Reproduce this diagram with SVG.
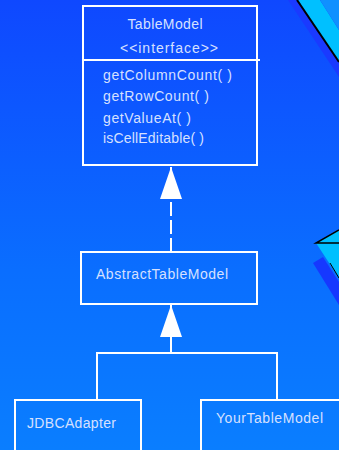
<svg xmlns="http://www.w3.org/2000/svg" width="339" height="450" viewBox="0 0 339 450">
  <defs>
    <linearGradient id="bg" x1="0" y1="0" x2="0" y2="1">
      <stop offset="0" stop-color="#0f48ff"/>
      <stop offset="0.6" stop-color="#0a6eff"/>
      <stop offset="1" stop-color="#0a7eff"/>
    </linearGradient>
    <!-- hollow-style generalization head, drawn as a solid white triangle -->
    <marker id="tri" markerWidth="32" markerHeight="22" refX="32" refY="11" orient="auto" markerUnits="userSpaceOnUse" viewBox="0 0 32 22">
      <path d="M32 11 L0 0 L0 22 Z" fill="#ffffff"/>
    </marker>
  </defs>
  <style>
    .box { fill: none; stroke: #ffffff; stroke-width: 2; }
    .line { fill: none; stroke: #ffffff; stroke-width: 2; }
    .lbl { font-family: "Liberation Sans", Arial, sans-serif; font-size: 14px; fill: #d6e0ff; }
  </style>

  <rect x="0" y="0" width="339" height="450" fill="url(#bg)"/>

  <!-- corner decoration, upper right -->
  <g id="deco-top">
    <polygon points="288,0 339,0 339,77" fill="#1a3aff"/>
    <polygon points="298,0 320,0 339,30 339,62" fill="#00c0ff"/>
    <polygon points="320,0 339,0 339,30" fill="#1090ff"/>
    <line x1="297" y1="0" x2="339" y2="62" stroke="#000000" stroke-width="2"/>
  </g>

  <!-- side decoration, right -->
  <g id="deco-side">
    <polygon points="313,263 323,257 339,282 339,305" fill="#1638ff"/>
    <polygon points="316,243 339,230 339,278" fill="#00c0ff"/>
    <polyline points="339,230 316,243 339,243" fill="none" stroke="#000000" stroke-width="1.5"/>
    <line x1="330" y1="263" x2="339" y2="278" stroke="#000000" stroke-width="1"/>
  </g>

  <g id="connectors">
    <line class="line" x1="171" y1="252" x2="171" y2="167" stroke-dasharray="14 4" marker-end="url(#tri)"/>
    <line class="line" x1="171" y1="353" x2="171" y2="305" marker-end="url(#tri)"/>
    <polyline class="line" points="97,400 97,353 277,353 277,400"/>
  </g>

  <g id="TableModel">
    <rect class="box" x="83" y="6" width="174" height="159"/>
    <line class="line" x1="83" y1="60" x2="260" y2="60"/>
    <text class="lbl" x="165" y="29" text-anchor="middle" textLength="75">TableModel</text>
    <text class="lbl" x="169" y="53" text-anchor="middle" textLength="98" lengthAdjust="spacing">&lt;&lt;interface&gt;&gt;</text>
    <text class="lbl" x="103" y="80" textLength="129">getColumnCount( )</text>
    <text class="lbl" x="103" y="101" textLength="106">getRowCount( )</text>
    <text class="lbl" x="103" y="123" textLength="88">getValueAt( )</text>
    <text class="lbl" x="103" y="143" textLength="101">isCellEditable( )</text>
  </g>

  <g id="AbstractTableModel">
    <rect class="box" x="81" y="252" width="176" height="52"/>
    <text class="lbl" x="96" y="279" textLength="132">AbstractTableModel</text>
  </g>

  <g id="JDBCAdapter">
    <rect class="box" x="15" y="400" width="126" height="60"/>
    <text class="lbl" x="27" y="428" textLength="89">JDBCAdapter</text>
  </g>

  <g id="YourTableModel">
    <rect class="box" x="201" y="400" width="150" height="60"/>
    <text class="lbl" x="216" y="423" textLength="107">YourTableModel</text>
  </g>
</svg>
